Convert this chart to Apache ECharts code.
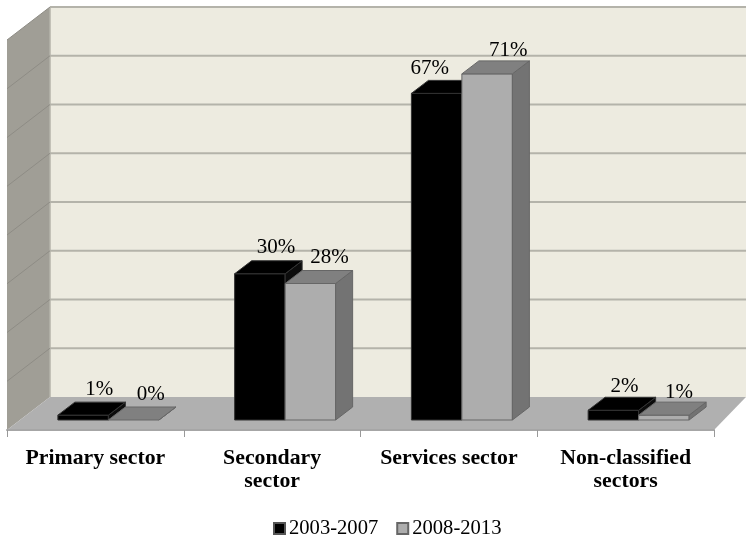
<!DOCTYPE html>
<html><head><meta charset="utf-8">
<style>html,body{margin:0;padding:0;background:#fff}#c{width:746px;height:538px}</style>
<script src="https://cdn.jsdelivr.net/npm/echarts@6/dist/echarts.min.js"></script>
</head><body><div id="c"></div>
<script>
const categories = ['Primary sector', 'Secondary\nsector', 'Services sector', 'Non-classified\nsectors'];
const periods = ['2003-2007', '2008-2013'];
const values2003 = [1, 30, 67, 2];
const values2008 = [0, 28, 71, 1];
const gridValues = [0, 10, 20, 30, 40, 50, 60, 70, 80];
const FONT = '"Liberation Serif","Times New Roman",serif';

// projection of the pseudo-3D box (pixels)
const wallDX = 43, wallDY = 33, barOffX = 13, barOffY = 10, barDX = 17, barDY = 13, barW = 50.5;
const blackFace = {front:'#000000', top:'#000000', side:'#0c0c0c', line:'#333333'};
const greyFace = {front:'#ADADAD', top:'#808080', side:'#737373', line:'#666666'};
// hand placement of a few labels in the source, [dx, dy]
const shift2003 = [[16,-26],[16,-26],[-7,-25],[11,-24]];
const shift2008 = [[17,-26],[19,-26],[21,-23],[15,-23]];

function poly(points, fill, stroke, lw){
  return {type:'polygon', shape:{points}, silent:true,
    style:{fill, stroke:stroke||null, lineWidth:lw||0}};
}
function renderWalls(params, api){
  const v = api.value(1), idx = params.dataIndex;
  const bandW = api.size([1,0])[0];
  const p = api.coord([0, v]);
  const x0 = p[0] - bandW/2, y = p[1];
  const x1 = x0 + bandW*categories.length;
  const children = [];
  if (idx === 0){
    const top = api.coord([0, gridValues[gridValues.length-1]])[1];
    const bx = x0 + wallDX;
    children.push(poly([[bx, top-wallDY],[746, top-wallDY],[746, y-wallDY],[bx, y-wallDY]], '#EDEBE0'));
    children.push(poly([[x0, top],[bx, top-wallDY],[bx, y-wallDY],[x0, y]], '#A09E96'));
    children.push(poly([[x0, y],[bx, y-wallDY],[746, y-wallDY],[x1, y]], '#B0B0B0'));
    children.push({type:'line', silent:true, shape:{x1:bx, y1:top-wallDY, x2:bx, y2:y-wallDY},
      style:{stroke:'#B4B3AA', lineWidth:1.5}});
  }
  if (idx > 0){
    children.push({type:'line', silent:true, shape:{x1:x0+wallDX, y1:y-wallDY, x2:746, y2:y-wallDY},
      style:{stroke:'#B4B3AA', lineWidth:2}});
    children.push({type:'line', silent:true, shape:{x1:x0, y1:y, x2:x0+wallDX, y2:y-wallDY},
      style:{stroke:'#8E8C85', lineWidth:1}});
  }
  return {type:'group', children};
}
function barRenderer(side, face, shifts){
  return function(params, api){
    const cat = api.value(0), v = api.value(1);
    const top = api.coord([cat, v]), base = api.coord([cat, 0]);
    const cx = base[0] + barOffX;
    const l = side < 0 ? cx - barW : cx, r = l + barW;
    const yb = base[1] - barOffY, yt = top[1] - barOffY;
    const children = [];
    if (v > 0){
      children.push(poly([[l,yb],[r,yb],[r,yt],[l,yt]], face.front, face.line, 1));
    }
    children.push(poly([[r,yb],[r+barDX,yb-barDY],[r+barDX,yt-barDY],[r,yt]], face.side, face.line, 1));
    children.push(poly([[l,yt],[r,yt],[r+barDX,yt-barDY],[l+barDX,yt-barDY]], face.top, face.line, 1));
    const s = shifts[params.dataIndex];
    children.push({type:'text', silent:true, z2:50, style:{
      text: v + '%', x:(l+r)/2 + s[0], y: yt + s[1], align:'center', verticalAlign:'middle',
      font:'21px ' + FONT, fill:'#000'}});
    return {type:'group', children};
  };
}
const chart = echarts.init(document.getElementById('c'), null, {renderer:'canvas'});
chart.setOption({
  animation:false,
  backgroundColor:'#ffffff',
  textStyle:{fontFamily:FONT},
  grid:{left:7, right:32, top:40, bottom:108, containLabel:false},
  xAxis:{type:'category', data:categories, boundaryGap:true, z:5,
    axisLine:{show:true, lineStyle:{color:'#A6A6A6', width:2}},
    axisTick:{show:true, length:7, lineStyle:{color:'#999999', width:1}, alignWithLabel:false},
    axisLabel:{interval:0, margin:17, color:'#000', fontFamily:FONT, fontWeight:'bold', fontSize:21.8, lineHeight:23}},
  yAxis:{type:'value', min:0, max:80, interval:10, show:false, splitLine:{show:false}},
  legend:{data:periods, left:268, top:513, icon:'rect', itemWidth:11, itemHeight:11, itemGap:18,
    textStyle:{color:'#000', fontFamily:FONT, fontSize:20.6, padding:[0,0,0,-1]}},
  series:[
    {type:'custom', name:'walls', silent:true, z:1, renderItem:renderWalls,
      data:gridValues.map(v=>[0,v]), encode:{x:0,y:1}},
    {type:'custom', name:periods[0], z:2, renderItem:barRenderer(-1, blackFace, shift2003),
      itemStyle:{color:'#000000', borderColor:'#555555', borderWidth:1},
      data:values2003.map((v,i)=>[i,v]), encode:{x:0,y:1}},
    {type:'custom', name:periods[1], z:3, renderItem:barRenderer(1, greyFace, shift2008),
      itemStyle:{color:'#ADADAD', borderColor:'#666666', borderWidth:1},
      data:values2008.map((v,i)=>[i,v]), encode:{x:0,y:1}}
  ]
});
</script></body></html>
